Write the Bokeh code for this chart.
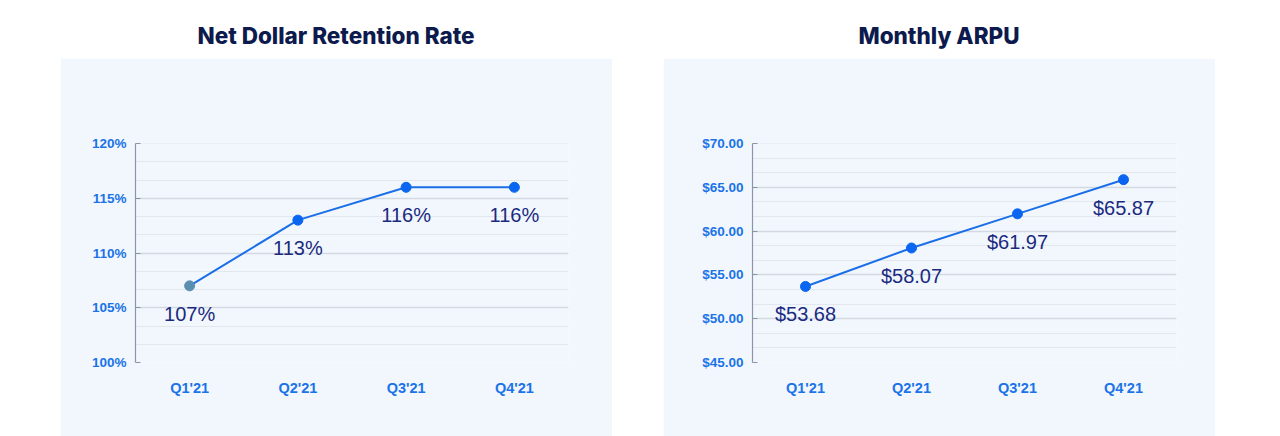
import numpy as np
from bokeh.plotting import figure
from bokeh.layouts import row, column
from bokeh.models import Div, Range1d, FixedTicker, PrintfTickFormatter, ColumnDataSource
from bokeh.core.properties import value
from bokeh.embed import file_html
from bokeh.resources import INLINE

quarters = ["Q1'21", "Q2'21", "Q3'21", "Q4'21"]
ndr_values = [107, 113, 116, 116]
ndr_labels = ["107%", "113%", "116%", "116%"]
ndr_point_colors = ["#5b8fb0", "#0a66f0", "#0a66f0", "#0a66f0"]
ndr_ticks = [100, 105, 110, 115, 120]
arpu_values = [53.68, 58.07, 61.97, 65.87]
arpu_labels = ["$53.68", "$58.07", "$61.97", "$65.87"]
arpu_point_colors = ["#0a66f0", "#0a66f0", "#0a66f0", "#0a66f0"]
arpu_ticks = [45, 50, 55, 60, 65, 70]

PANEL = "#f2f7fd"
NAVY = "#0c1a4d"
TICK_BLUE = "#1a73e8"
LINE_BLUE = "#1a6fe8"
LABEL_NAVY = "#1a2a80"


def make_panel(title, vals, labels, colors, ticks, fmt, left_border, right_border):
    div = Div(text=title, width=552, height=58, margin=0,
              styles={"font-family": "Inter, sans-serif", "font-weight": "800",
                      "font-size": "22.5px", "color": NAVY, "text-align": "center",
                      "width": "552px", "padding-top": "20px", "box-sizing": "border-box"})
    step = ticks[1] - ticks[0]
    minor = list(np.arange(ticks[0], ticks[-1] + 1e-9, step / 3.0))
    p = figure(x_range=quarters, y_range=Range1d(ticks[0], ticks[-1]),
               width=552, height=378, output_backend="svg", toolbar_location=None,
               min_border_left=left_border, min_border_right=right_border,
               min_border_top=85, min_border_bottom=74, margin=0)
    p.background_fill_color = PANEL
    p.border_fill_color = PANEL
    p.outline_line_color = None

    src = ColumnDataSource(dict(x=quarters, y=vals, lab=labels, c=colors))
    p.line("x", "y", source=src, line_color=LINE_BLUE, line_width=2)
    p.scatter("x", "y", source=src, size=10, fill_color="c", line_color="c")
    p.text("x", "y", text="lab", source=src, y_offset=28, text_align="center",
           text_baseline="middle", text_font=value("Liberation Sans"),
           text_font_size="20px", text_color=LABEL_NAVY)

    p.yaxis.ticker = FixedTicker(ticks=ticks, minor_ticks=minor)
    p.yaxis.formatter = PrintfTickFormatter(format=fmt)
    p.yaxis.major_label_text_font = "Liberation Sans"
    p.yaxis.major_label_text_font_style = "bold"
    p.yaxis.major_label_text_font_size = "13.5px"
    p.yaxis.major_label_text_color = TICK_BLUE
    p.yaxis.axis_line_color = "#8a96a8"
    p.yaxis.axis_line_width = 1.2
    p.yaxis.major_tick_line_color = "#8a96a8"
    p.yaxis.major_tick_out = 0
    p.yaxis.major_tick_in = 5
    p.yaxis.minor_tick_line_color = None
    p.yaxis.major_label_standoff = 5

    p.xaxis.axis_line_color = None
    p.xaxis.major_tick_line_color = None
    p.xaxis.minor_tick_line_color = None
    p.xaxis.major_label_text_font = "Liberation Sans"
    p.xaxis.major_label_text_font_style = "bold"
    p.xaxis.major_label_text_font_size = "14.5px"
    p.xaxis.major_label_text_color = TICK_BLUE
    p.xaxis.major_label_standoff = 11

    p.xgrid.grid_line_color = None
    p.ygrid.grid_line_color = "#d3d9e1"
    p.ygrid.grid_line_width = 1.5
    p.ygrid.minor_grid_line_color = "#e2e7ee"
    p.ygrid.minor_grid_line_width = 1.2
    return column(div, p, spacing=0, margin=0)


left = make_panel("Net Dollar Retention Rate", ndr_values, ndr_labels, ndr_point_colors,
                  ndr_ticks, "%d%%", 75, 44)
right = make_panel("Monthly ARPU", arpu_values, arpu_labels, arpu_point_colors,
                   arpu_ticks, "$%.2f", 89, 39)
layout = row(left, right, spacing=51, margin=(0, 0, 0, 60))

open("out.html", "w").write(file_html(layout, INLINE))
